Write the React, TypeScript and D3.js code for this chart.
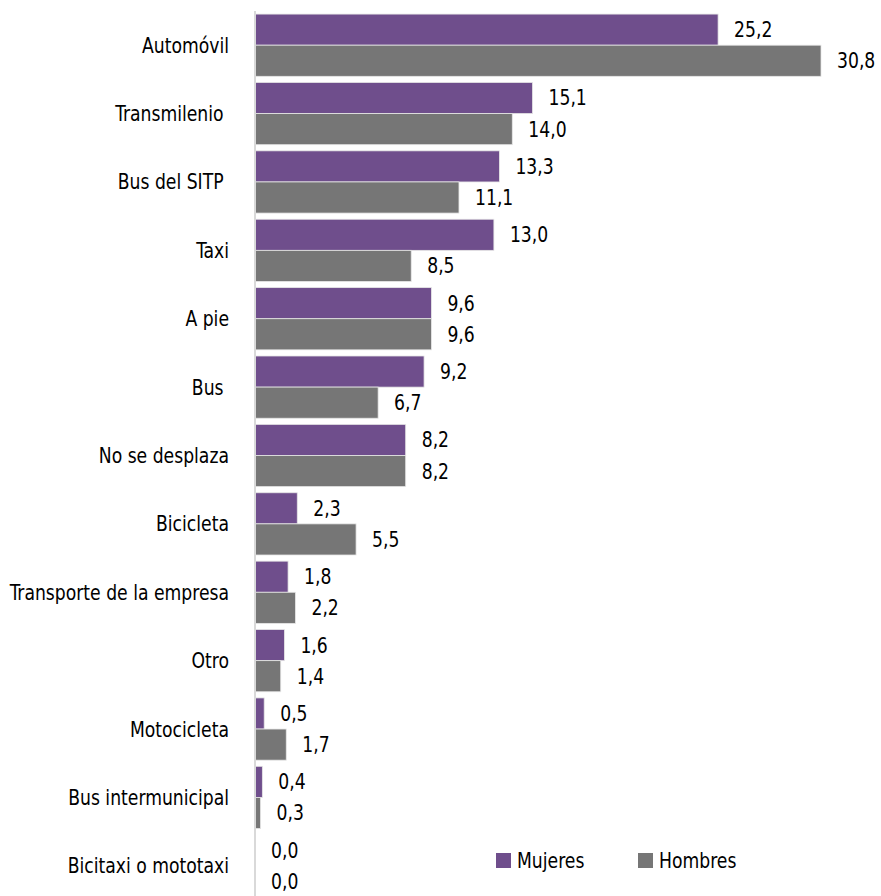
import * as d3 from "d3";

const categorias = [
  "Automóvil",
  "Transmilenio ",
  "Bus del SITP ",
  "Taxi",
  "A pie",
  "Bus ",
  "No se desplaza",
  "Bicicleta",
  "Transporte de la empresa",
  "Otro",
  "Motocicleta",
  "Bus intermunicipal",
  "Bicitaxi o mototaxi",
];
const mujeres = [25.2, 15.1, 13.3, 13.0, 9.6, 9.2, 8.2, 2.3, 1.8, 1.6, 0.5, 0.4, 0.0];
const hombres = [30.8, 14.0, 11.1, 8.5, 9.6, 6.7, 8.2, 5.5, 2.2, 1.4, 1.7, 0.3, 0.0];
const series = ["Mujeres", "Hombres"];
const colores = ["#6f4e8c", "#767676"];

const width = 881;
const height = 896;
const fuente = "'DejaVu Sans Condensed', 'DejaVu Sans', sans-serif";
const estrecho = 0.87; // la fuente original es más angosta

// texto angosto, anclado en (x, y)
function Texto(props: {x: number; y: number; anchor?: string; children: string}) {
  return (
    <text
      transform={`translate(${props.x},${props.y}) scale(${estrecho},1)`}
      textAnchor={props.anchor ?? "start"}
      dominantBaseline="central"
      fontSize={22}
      fill="#000"
      style={{whiteSpace: "pre"}}
    >
      {props.children}
    </text>
  );
}

export default function App() {
  const x0 = 255;
  const x = d3.scaleLinear().domain([0, 30.8]).range([x0, 821]);
  const y = d3
    .scaleBand<string>()
    .domain(categorias)
    .range([11, 900])
    .paddingInner(0.09)
    .paddingOuter(0.045);
  const sub = d3.scaleBand<string>().domain(series).range([0, y.bandwidth()]);
  const fmt = (v: number) => v.toFixed(1).replace(".", ",");
  const datos = [mujeres, hombres];

  return (
    <svg
      width={width}
      height={height}
      style={{position: "absolute", left: 0, top: 0, background: "white", fontFamily: fuente}}
    >
      {categorias.map((c, i) => (
        <g key={c}>
          <Texto x={229} y={(y(c) ?? 0) + y.bandwidth() / 2} anchor="end">
            {c}
          </Texto>
          {series.map((s, j) => {
            const v = datos[j][i];
            const top = (y(c) ?? 0) + (sub(s) ?? 0);
            return (
              <g key={s}>
                {v > 0 && (
                  <rect
                    x={x0}
                    y={top}
                    width={x(v) - x0}
                    height={sub.bandwidth()}
                    fill={colores[j]}
                    stroke="#e6e6e6"
                    strokeWidth={0.8}
                  />
                )}
                <Texto x={x(v) + 16} y={top + sub.bandwidth() / 2}>
                  {fmt(v)}
                </Texto>
              </g>
            );
          })}
        </g>
      ))}
      <line x1={x0} x2={x0} y1={11} y2={height} stroke="#d9d9d9" strokeWidth={2} />
      {series.map((s, j) => (
        <g key={s} transform={`translate(${496 + j * 142},853)`}>
          <rect width={15} height={15} fill={colores[j]} />
          <Texto x={21} y={8}>
            {s}
          </Texto>
        </g>
      ))}
    </svg>
  );
}
